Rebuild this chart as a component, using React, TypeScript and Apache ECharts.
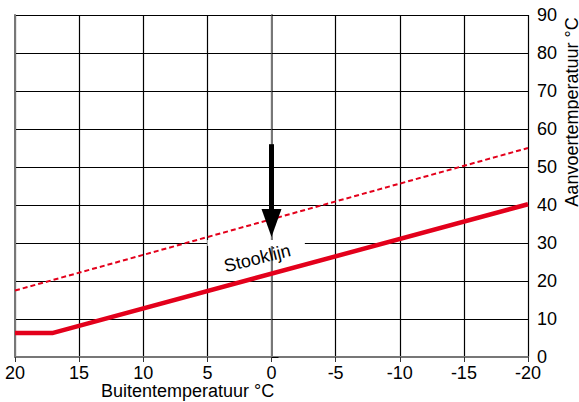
import React, { useEffect, useRef } from "react";
import * as echarts from "echarts";

const solidX = [20, 17.1, -20];
const solidY = [6.3, 6.3, 40.2];
const dashedX = [20, -20];
const dashedY = [17.5, 55];
// arrow: x, top value, tip value
const arrowData = [[0, 56, 31.6]];
// label: x, y, text
const labelData = [[1.1, 26.0]];
const labelText = "Stooklijn";
// white gap in grid line: x from, x to, y
const gapData = [[5, -2.6, 30]];
const xName = "Buitentemperatuur °C";
const yName = "Aanvoertemperatuur °C";

const FONT = "'Liberation Sans', Arial, sans-serif";
const RED = "#e3001b";

export default function App() {
  const ref = useRef<HTMLDivElement>(null);
  useEffect(() => {
    const chart = echarts.init(ref.current!, null, { renderer: "svg" });
    const option: any = {
      animation: false,
      backgroundColor: "#fff",
      textStyle: { fontFamily: FONT },
      grid: { left: 15, right: 51, top: 15, bottom: 45 },
      xAxis: {
        type: "value",
        min: -20,
        max: 20,
        interval: 5,
        inverse: true,
        axisLine: { show: true, onZero: false, lineStyle: { color: "#777", width: 2 } },
        axisTick: { show: true, length: 5, lineStyle: { color: "#333" } },
        axisLabel: { color: "#000", fontSize: 18, fontFamily: FONT, margin: 7 },
        splitLine: { show: true, lineStyle: { color: "#000", width: 1.2 } },
      },
      yAxis: [
        {
          type: "value",
          position: "right",
          min: 0,
          max: 90,
          interval: 10,
          axisLine: { show: true, lineStyle: { color: "#777", width: 2 } },
          axisTick: { show: true, length: 7, lineStyle: { color: "#000" } },
          axisLabel: { color: "#000", fontSize: 18, fontFamily: FONT, margin: 9 },
          splitLine: { show: true, lineStyle: { color: "#000", width: 1.2 } },
        },
        {
          type: "value",
          position: "left",
          min: 0,
          max: 90,
          interval: 10,
          axisLine: { show: true, lineStyle: { color: "#777", width: 2 } },
          axisTick: { show: false },
          axisLabel: { show: false },
          splitLine: { show: false },
        },
      ],
      graphic: [
        {
          type: "text",
          left: 101,
          top: 382,
          style: { text: xName, fontSize: 18, fontFamily: FONT, fill: "#000" },
        },
        {
          type: "text",
          x: 572,
          y: 112,
          rotation: Math.PI / 2,
          style: {
            text: yName,
            fontSize: 18,
            fontFamily: FONT,
            fill: "#000",
            align: "center",
            verticalAlign: "middle",
          },
        },
      ],
      series: [
        {
          type: "custom",
          z: 1,
          clip: false,
          data: gapData,
          renderItem: (params: any, api: any) => {
            const a = api.coord([api.value(0), api.value(2)]);
            const b = api.coord([api.value(1), api.value(2)]);
            return {
              type: "rect",
              shape: { x: Math.min(a[0], b[0]), y: a[1] - 3, width: Math.abs(b[0] - a[0]), height: 6 },
              style: { fill: "#fff" },
            };
          },
        },
        {
          type: "line",
          data: solidX.map((x, i) => [x, solidY[i]]),
          showSymbol: false,
          symbol: "none",
          lineStyle: { color: RED, width: 4.5 },
          z: 3,
        },
        {
          type: "line",
          data: dashedX.map((x, i) => [x, dashedY[i]]),
          showSymbol: false,
          symbol: "none",
          lineStyle: { color: RED, width: 2, type: [5, 3] },
          z: 3,
        },
        {
          type: "custom",
          z: 4,
          clip: false,
          data: arrowData,
          renderItem: (params: any, api: any) => {
            const top = api.coord([api.value(0), api.value(1)]);
            const tip = api.coord([api.value(0), api.value(2)]);
            const headLen = 28;
            const headHalf = 10;
            const x = top[0];
            return {
              type: "group",
              children: [
                {
                  type: "rect",
                  shape: { x: x - 2.5, y: top[1], width: 5, height: tip[1] - headLen - top[1] + 2 },
                  style: { fill: "#000" },
                },
                {
                  type: "polygon",
                  shape: {
                    points: [
                      [x - headHalf, tip[1] - headLen],
                      [x + headHalf, tip[1] - headLen],
                      [x, tip[1]],
                    ],
                  },
                  style: { fill: "#000" },
                },
              ],
            };
          },
        },
        {
          type: "custom",
          z: 5,
          clip: false,
          data: labelData,
          renderItem: (params: any, api: any) => {
            const p = api.coord([api.value(0), api.value(1)]);
            return {
              type: "text",
              x: p[0],
              y: p[1],
              rotation: (14 * Math.PI) / 180,
              style: {
                text: labelText,
                fontSize: 18,
                fontFamily: FONT,
                fill: "#000",
                align: "center",
                verticalAlign: "middle",
              },
            };
          },
        },
      ],
    };
    chart.setOption(option);
    return () => chart.dispose();
  }, []);
  return (
    <div
      ref={ref}
      style={{ position: "fixed", left: 0, top: 0, width: 579, height: 402 }}
    />
  );
}
